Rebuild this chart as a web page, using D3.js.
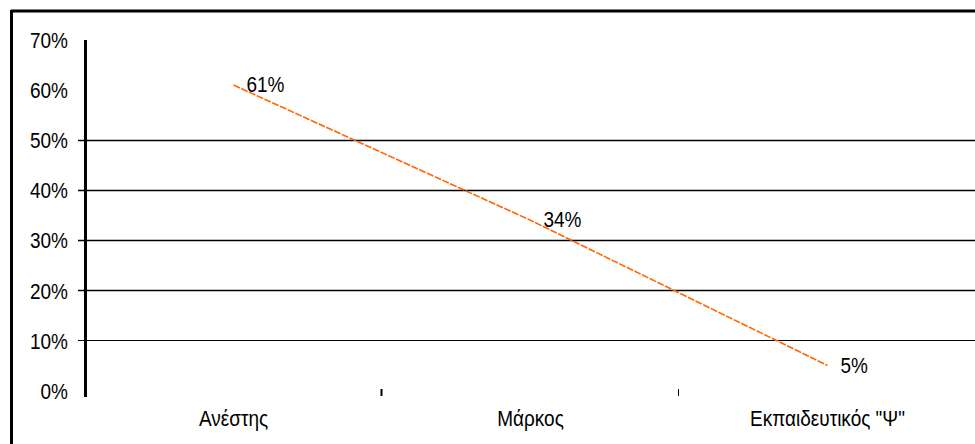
<!DOCTYPE html>
<html>
<head>
<meta charset="utf-8">
<script src="https://cdn.jsdelivr.net/npm/d3@7"></script>
<style>
  html, body { margin: 0; padding: 0; background: #fff; }
  svg { display: block; }
  text { font-family: "Liberation Sans", Arial, sans-serif; fill: #000; font-size: 19px; }
</style>
</head>
<body>
<svg id="chart" width="975" height="444"></svg>
<script>
// Share of responses per person
const categories = ["Ανέστης", "Μάρκος", "Εκπαιδευτικός \"Ψ\""];
const values = [0.61, 0.34, 0.05];
const valueLabels = ["61%", "34%", "5%"];
const yTicks = [0, 0.1, 0.2, 0.3, 0.4, 0.5, 0.6, 0.7];
const gridTicks = [0.1, 0.2, 0.3, 0.4, 0.5];

const svg = d3.select("#chart");
const W = 975, H = 444;
const stretch = 1.2; // slightly tall lettering

const y = d3.scaleLinear().domain([0, 0.7]).range([390.5, 40]);
const x = d3.scaleBand().domain(categories).range([85, 976]).padding(0);
const cx = d => x(d) + x.bandwidth() / 2;
const place = (px, py) => `translate(${px},${py}) scale(1,${stretch})`;

// outer frame (top and left edges)
svg.append("line").attr("x1", 11).attr("x2", W).attr("y1", 11).attr("y2", 11)
  .attr("stroke", "#000").attr("stroke-width", 3);
svg.append("line").attr("x1", 11.5).attr("x2", 11.5).attr("y1", 10).attr("y2", H)
  .attr("stroke", "#000").attr("stroke-width", 3);

// horizontal gridlines
svg.append("g").selectAll("line").data(gridTicks).join("line")
  .attr("x1", 78).attr("x2", W)
  .attr("y1", d => Math.round(y(d)) + 0.5).attr("y2", d => Math.round(y(d)) + 0.5)
  .attr("stroke", "#000")
  .attr("stroke-width", d => d === 0.1 ? 1 : 1.6);

// y axis labels
svg.append("g").selectAll("text").data(yTicks).join("text")
  .attr("transform", d => place(68, y(d)))
  .attr("text-anchor", "end").attr("dominant-baseline", "central")
  .text(d => d3.format(".0%")(d));

// y axis line
svg.append("line").attr("x1", 85.5).attr("x2", 85.5).attr("y1", 40).attr("y2", 397)
  .attr("stroke", "#000").attr("stroke-width", 3);

// category separators on the baseline
svg.append("g").selectAll("line").data(categories.slice(1)).join("line")
  .attr("x1", d => Math.round(x(d)) - 0.5).attr("x2", d => Math.round(x(d)) - 0.5)
  .attr("y1", 389).attr("y2", 396)
  .attr("stroke", "#000").attr("stroke-width", (d, i) => i === 0 ? 2 : 1);

// category labels
svg.append("g").selectAll("text").data(categories).join("text")
  .attr("transform", d => place(cx(d), 418))
  .attr("text-anchor", "middle").attr("dominant-baseline", "central")
  .text(d => d);

// data line
const pts = categories.map((c, i) => [cx(c), y(values[i])]);
svg.append("path")
  .attr("d", d3.line()(pts))
  .attr("fill", "none")
  .attr("stroke", "#ff6600")
  .attr("stroke-width", 1.6)
  .attr("stroke-dasharray", "7 1.5");

// value labels
svg.append("g").selectAll("text").data(categories).join("text")
  .attr("transform", (d, i) => place(cx(d) + 13, y(values[i]) - 1))
  .attr("dominant-baseline", "central")
  .text((d, i) => valueLabels[i]);
</script>
</body>
</html>
